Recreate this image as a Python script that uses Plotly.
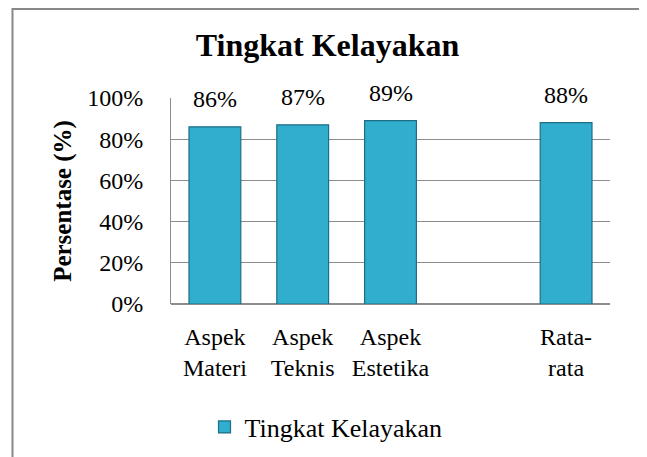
import plotly.graph_objects as go

categories = ["Aspek<br>Materi", "Aspek<br>Teknis", "Aspek<br>Estetika", " ", "Rata-<br>rata"]
values = [0.86, 0.87, 0.89, None, 0.88]
labels = ["86%", "87%", "89%", "", "88%"]
series_name = "Tingkat Kelayakan"
y_ticks = [0, 0.2, 0.4, 0.6, 0.8, 1.0]
y_ticktext = ["0%", "20%", "40%", "60%", "80%", "100%"]

FONT = "Liberation Serif"

# page body adds an 8px offset, so the figure is 8px smaller than the window
W, H = 639, 449
L, R, T, B = 163, 37, 90, 153
PW, PH = W - L - R, H - T - B

fig = go.Figure()
fig.add_trace(go.Bar(
    x=categories, y=values, name=series_name,
    marker=dict(color="#31AECE", line=dict(color="#1D6E84", width=1.2)),
    width=0.59, showlegend=True,
))

for c, v, t in zip(categories, values, labels):
    if v is None:
        continue
    fig.add_annotation(x=c, y=v, text=t, showarrow=False, yanchor="middle",
                       yshift=28, font=dict(family=FONT, size=24, color="#000"))

fig.update_layout(
    width=W, height=H,
    margin=dict(l=L, r=R, t=T, b=B, autoexpand=False),
    paper_bgcolor="white", plot_bgcolor="white",
    font=dict(family=FONT, size=24, color="#000"),
    title=dict(text="<b>Tingkat Kelayakan</b>", x=0.5, xanchor="center", xref="container",
               yref="container", y=1 - 37 / H, yanchor="middle",
               font=dict(family=FONT, size=32)),
    legend=dict(orientation="h", xref="container", x=318 / W, xanchor="center",
                yref="container", y=1 - 419 / H, yanchor="middle",
                font=dict(family=FONT, size=26), bgcolor="rgba(0,0,0,0)"),
    showlegend=True,
)
fig.update_xaxes(type="category", showline=False, ticks="",
                 tickfont=dict(family=FONT, size=24), ticklabelstandoff=16)
fig.update_yaxes(range=[0, 1.0], tickvals=y_ticks, ticktext=y_ticktext,
                 showgrid=True, gridcolor="#8C8C8C", gridwidth=1,
                 showline=True, linecolor="#8C8C8C", linewidth=1,
                 zeroline=True, zerolinecolor="#8C8C8C",
                 ticks="", ticklabelstandoff=22, tickfont=dict(family=FONT, size=24),
                 title=dict(text="<b>Persentase (%)</b>", font=dict(family=FONT, size=25),
                            standoff=8))

# outer chart border
fig.add_shape(type="rect", xref="paper", yref="paper",
              x0=(4.5 - L) / PW, x1=(632 - L) / PW,
              y0=(T + PH - 470) / PH, y1=(T + PH - 1) / PH,
              line=dict(color="#888888", width=2), fillcolor="rgba(0,0,0,0)")

fig.write_html("out.html")
